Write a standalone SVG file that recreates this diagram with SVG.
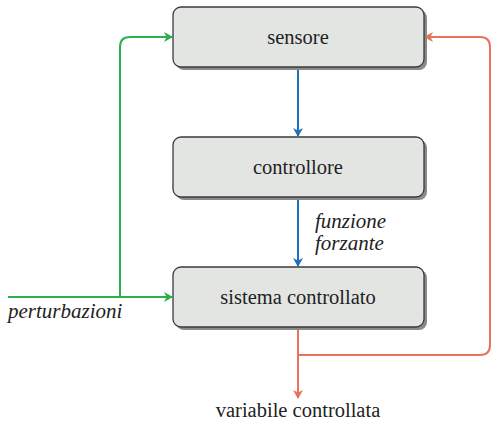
<svg xmlns="http://www.w3.org/2000/svg" width="500" height="425" viewBox="0 0 500 425">
<style>
.box{fill:#e2e5e1;stroke:#3a3a3a;stroke-width:1.3}
.sh{fill:#8a8a8a}
.t{font-family:"Liberation Serif",serif;font-size:20.5px;fill:#222;text-anchor:middle}
.i{font-family:"Liberation Serif",serif;font-size:21px;font-style:italic;fill:#222}
.g{stroke:#2bb04a;stroke-width:2;fill:none}
.b{stroke:#1f72b8;stroke-width:2;fill:none}
.o{stroke:#e8735a;stroke-width:2;fill:none}
</style>
<defs>
<marker id="ag" markerWidth="10" markerHeight="10" refX="8" refY="5" orient="auto" markerUnits="userSpaceOnUse"><path d="M0,0 L9,5 L0,10 L2.5,5 Z" fill="#2bb04a"/></marker>
<marker id="ab" markerWidth="10" markerHeight="10" refX="8" refY="5" orient="auto" markerUnits="userSpaceOnUse"><path d="M0,0 L9,5 L0,10 L2.5,5 Z" fill="#1f72b8"/></marker>
<marker id="ao" markerWidth="10" markerHeight="10" refX="8" refY="5" orient="auto" markerUnits="userSpaceOnUse"><path d="M0,0 L9,5 L0,10 L2.5,5 Z" fill="#e8735a"/></marker>
</defs>
<g id="connectors">
<path class="b" d="M298,68 V136" marker-end="url(#ab)"/>
<path class="b" d="M298,198 V266" marker-end="url(#ab)"/>
<path class="g" d="M8,297 H172" marker-end="url(#ag)"/>
<path class="g" d="M120,297 V47 Q120,37 130,37 H172" marker-end="url(#ag)"/>
<path class="o" d="M298,328 V398" marker-end="url(#ao)"/>
<path class="o" d="M298,355 H480 Q490,355 490,345 V47 Q490,37 480,37 H425" marker-end="url(#ao)"/>
</g>
<g id="sensore">
<rect class="sh" x="176" y="10" width="251" height="60" rx="8"/>
<rect class="box" x="173" y="7" width="251" height="60" rx="8"/>
<text class="t" x="298" y="44">sensore</text>
</g>
<g id="controllore">
<rect class="sh" x="176" y="140" width="251" height="60" rx="8"/>
<rect class="box" x="173" y="137" width="251" height="60" rx="8"/>
<text class="t" x="298" y="174">controllore</text>
</g>
<g id="sistema">
<rect class="sh" x="176" y="270" width="251" height="60" rx="8"/>
<rect class="box" x="173" y="267" width="251" height="60" rx="8"/>
<text class="t" x="298" y="304">sistema controllato</text>
</g>
<g id="labels">
<text class="i" x="315" y="228">funzione</text>
<text class="i" x="315" y="250">forzante</text>
<text class="i" x="8" y="318">perturbazioni</text>
<text class="t" x="298" y="417">variabile controllata</text>
</g>
</svg>
